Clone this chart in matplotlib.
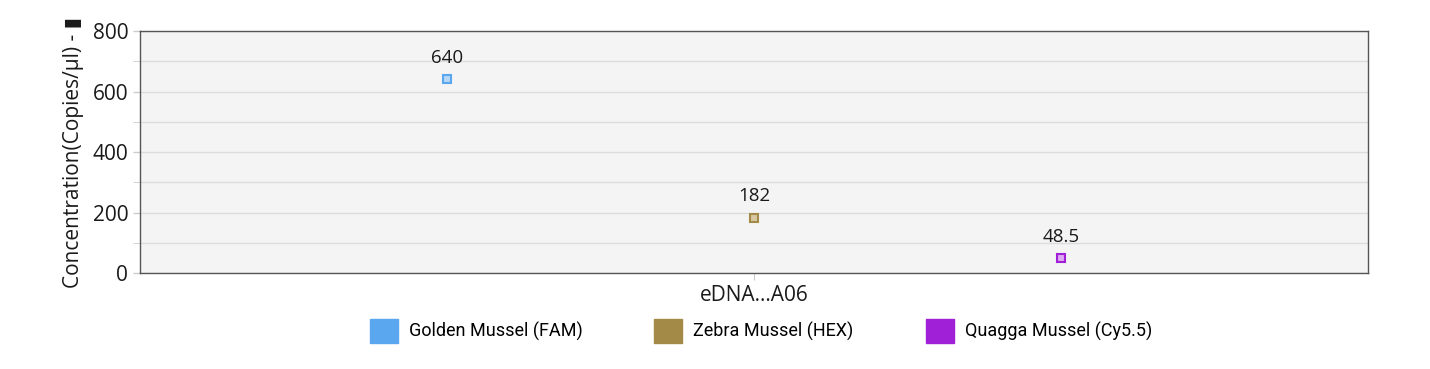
import matplotlib.pyplot as plt
from matplotlib.patches import Patch

series = ["Golden Mussel (FAM)", "Zebra Mussel (HEX)", "Quagga Mussel (Cy5.5)"]
values = [640, 182, 48.5]
labels = ["640", "182", "48.5"]
colors = ["#5aa6ef", "#a38a46", "#a020d8"]
faces = ["#b5d6f7", "#d6c8a3", "#ddaaf2"]
category = "eDNA...A06"
offsets = [-0.25, 0, 0.25]

fonts = ["Open Sans", "DejaVu Sans"]

fig = plt.figure(figsize=(14.3, 3.69), dpi=100)
ax = fig.add_axes([0.0979, 0.260, 0.8587, 0.656])
ax.set_facecolor("#f4f4f4")

for off, v, lab, c, fc in zip(offsets, values, labels, colors, faces):
    ax.plot([off], [v], marker="s", markersize=5.5, markerfacecolor=fc,
            markeredgecolor=c, markeredgewidth=1.5, linestyle="none", zorder=3)
    ax.annotate(lab, (off, v), xytext=(0, 9), textcoords="offset points",
                ha="center", va="bottom", fontsize=13.5, family=fonts,
                color="#1a1a1a")

ax.set_xlim(-0.5, 0.5)
ax.set_ylim(0, 800)
ax.set_yticks([0, 200, 400, 600, 800])
ax.set_yticks([100, 300, 500, 700], minor=True)
ax.set_xticks([0])
ax.set_xticklabels([category], fontsize=15, family=fonts)
ax.tick_params(axis="y", labelsize=15, colors="#cccccc", labelcolor="#1a1a1a",
               length=5, width=1)
ax.tick_params(axis="y", which="minor", colors="#cccccc", length=5)
ax.tick_params(axis="x", colors="#cccccc", labelcolor="#1a1a1a", length=5)
for t in ax.get_yticklabels():
    t.set_family(fonts)
ax.grid(True, axis="y", which="both", color="#dcdcdc", linewidth=1)
ax.set_axisbelow(True)
for s in ax.spines.values():
    s.set_color("#555555")
    s.set_linewidth(1)

ax.set_ylabel("Concentration(Copies/µl) - \u25ae", fontsize=15, family=fonts,
              color="#1a1a1a", labelpad=6)

handles = [Patch(facecolor=c, edgecolor=c) for c in colors]
fig.legend(handles, series, loc="center", bbox_to_anchor=(0.532, 0.103), ncol=3,
           frameon=False, prop={"family": ["Roboto", "DejaVu Sans"], "size": 13},
           handlelength=1.55, handleheight=1.6, handletextpad=0.6,
           columnspacing=4.0)

fig.savefig("out.png", dpi=100)
